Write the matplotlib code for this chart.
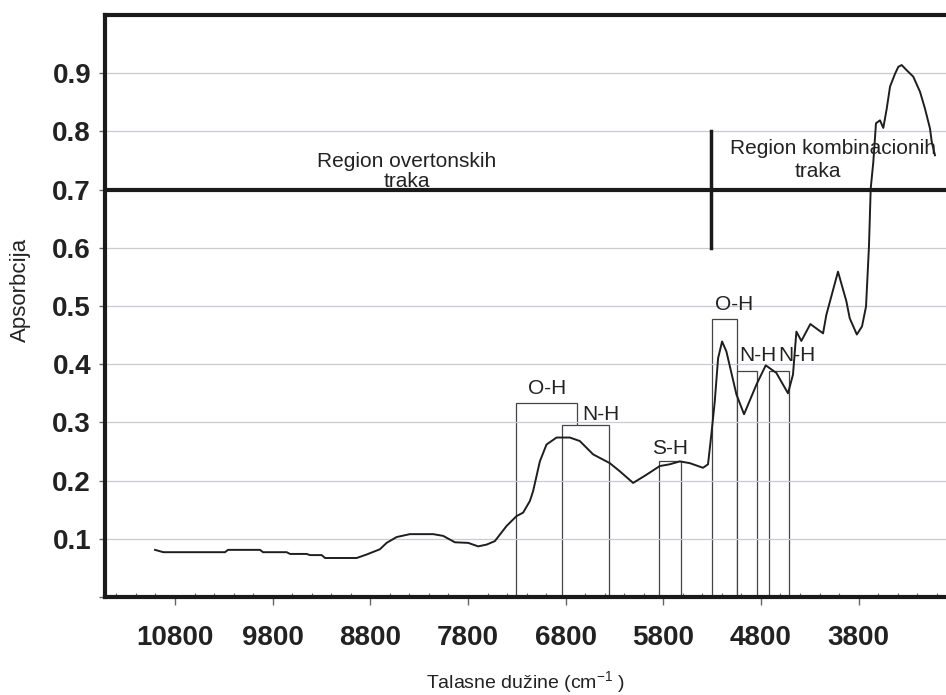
import matplotlib
matplotlib.use("Agg")
import matplotlib.pyplot as plt
from matplotlib.patches import Rectangle
from matplotlib.ticker import MultipleLocator

plt.rcParams['font.family'] = ['Liberation Sans', 'DejaVu Sans']
plt.rcParams['mathtext.fontset'] = 'custom'
plt.rcParams['mathtext.rm'] = 'Liberation Sans'

# NIR spectrum (wavenumber in cm-1, absorbance)
wavenumber = [11005, 10920, 10288, 10257, 9930, 9899, 9657, 9622, 9452, 9418,
              9298, 9264, 8940, 8838, 8702, 8633, 8531, 8395, 8156, 8054,
              7934, 7798, 7696, 7610, 7525, 7405, 7303, 7235, 7166, 7133,
              7064, 6996, 6893, 6757, 6655, 6518, 6348, 6245, 6109, 5973,
              5836, 5734, 5631, 5529, 5393, 5342, 5308, 5273, 5239, 5198,
              5154, 5051, 4973, 4846, 4751, 4642, 4523, 4472, 4437, 4386,
              4294, 4164, 4130, 4011, 3925, 3891, 3818, 3765, 3724, 3694,
              3676, 3649, 3622, 3581, 3547, 3512, 3478, 3427, 3393, 3359,
              3307, 3240, 3171, 3120, 3069, 3051, 3018]
absorbance = [0.081, 0.077, 0.077, 0.081, 0.081, 0.077, 0.077, 0.074, 0.074, 0.072,
              0.072, 0.067, 0.067, 0.073, 0.082, 0.093, 0.103, 0.108, 0.108, 0.105,
              0.094, 0.093, 0.087, 0.090, 0.096, 0.122, 0.139, 0.145, 0.165, 0.182,
              0.233, 0.262, 0.274, 0.274, 0.268, 0.245, 0.230, 0.216, 0.196, 0.210,
              0.225, 0.228, 0.233, 0.230, 0.222, 0.228, 0.279, 0.336, 0.410, 0.439,
              0.422, 0.348, 0.314, 0.365, 0.398, 0.385, 0.350, 0.382, 0.456, 0.440,
              0.469, 0.453, 0.485, 0.559, 0.508, 0.479, 0.451, 0.465, 0.499, 0.602,
              0.702, 0.748, 0.814, 0.819, 0.806, 0.839, 0.877, 0.899, 0.911, 0.914,
              0.905, 0.894, 0.868, 0.839, 0.805, 0.782, 0.759]

# band assignment boxes: label, left edge, right edge, height
band_labels = ['O-H', 'N-H', 'S-H', 'O-H', 'N-H', 'N-H']
band_left = [7308, 6834, 5844, 5304, 5048, 4717]
band_right = [6680, 6353, 5618, 5048, 4837, 4510]
band_top = [0.334, 0.295, 0.233, 0.478, 0.388, 0.388]
label_x = [6994, 6443, 5731, 5076, 4830, 4431]
label_y = [0.358, 0.313, 0.256, 0.502, 0.415, 0.415]

x_ticks = [10800, 9800, 8800, 7800, 6800, 5800, 4800, 3800]
y_ticks = [0.1, 0.2, 0.3, 0.4, 0.5, 0.6, 0.7, 0.8, 0.9]

region_split = 5314
region_line = 0.7

tick_font = ['Liberation Sans Narrow', 'Liberation Sans']

fig = plt.figure(figsize=(9.46, 6.95), dpi=100)
ax = fig.add_axes([105 / 946, 1 - 597 / 695, 1 - 105 / 946, (597 - 15) / 695])

ax.set_xlim(11517, 2905)
ax.set_ylim(0, 1.0)

# boxes for the band regions (white fill hides the overlapped edges)
for left, right, top in zip(band_left, band_right, band_top):
    ax.add_patch(Rectangle((right, 0), left - right, top, facecolor='white',
                           edgecolor='#444444', lw=0.9, zorder=1))
for lab, lx, ly in zip(band_labels, label_x, label_y):
    ax.text(lx, ly, lab, ha='center', va='center', fontsize=15, color='#222222')

ax.plot(wavenumber, absorbance, color='#1e1e1e', lw=1.4, zorder=3)

# region separators
ax.axhline(region_line, color='#1a1a1a', lw=3, zorder=4)
ax.plot([region_split, region_split], [0.6, 0.8], color='#1a1a1a', lw=2.5, zorder=4)
ax.text(8430, 0.731, 'Region overtonskih\ntraka', ha='center', va='center',
        fontsize=15, color='#222222', linespacing=1.05)
ax.text(4062, 0.770, 'Region kombinacionih', ha='center', va='center',
        fontsize=15, color='#222222')
ax.text(4216, 0.731, 'traka', ha='center', va='center',
        fontsize=15, color='#222222')

# axes styling
ax.yaxis.grid(True, color='#cacad6', lw=0.9)
ax.set_axisbelow('line')
for side in ['left', 'top', 'bottom']:
    ax.spines[side].set_linewidth(3)
    ax.spines[side].set_color('#1a1a1a')
ax.spines['right'].set_visible(False)

ax.set_xticks(x_ticks)
ax.set_xticklabels([str(t) for t in x_ticks], fontfamily=tick_font,
                   fontweight='bold', fontsize=20, color='#222222')
ax.xaxis.set_minor_locator(MultipleLocator(200))
ax.set_yticks([0.0] + y_ticks)
ax.set_yticklabels([''] + [f'{t:.1f}' for t in y_ticks], fontfamily=tick_font,
                   fontweight='bold', fontsize=20, color='#222222')
ax.tick_params(axis='x', which='major', direction='out', length=6, width=1,
               color='#666666', pad=14)
ax.tick_params(axis='x', which='minor', direction='in', length=3, width=0.8,
               color='#666666')
ax.tick_params(axis='y', which='major', direction='out', length=4, width=1,
               color='#666666', pad=6)

fig.text(20 / 946, 1 - 290 / 695, 'Apsorbcija', rotation=90, ha='center',
         va='center', fontsize=16, color='#222222')
fig.text(526 / 946, 1 - 683 / 695, r'Talasne dužine (cm$^{\mathregular{-1}}$ )',
         ha='center', va='center', fontsize=14, color='#222222')

fig.savefig('out.png', dpi=100)
